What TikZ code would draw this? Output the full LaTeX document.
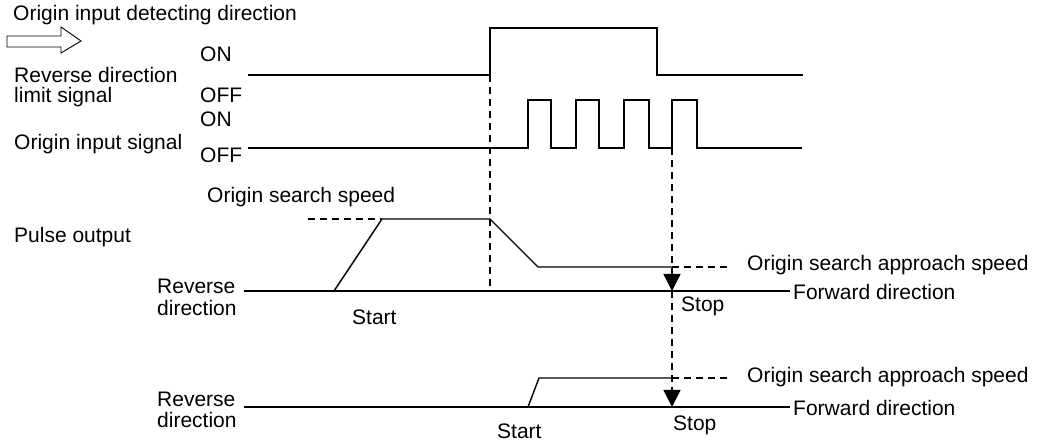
\documentclass[tikz,border=0pt]{standalone}
\usepackage{fontspec}
\setmainfont{Liberation Sans}
\usetikzlibrary{arrows.meta}

\begin{document}
\begin{tikzpicture}[x=1pt,y=-1pt,
    sig/.style={line width=1.4pt,line join=miter},
    guide/.style={line width=1.4pt,dash pattern=on 7pt off 5pt},
    lbl/.style={anchor=base west,inner sep=0pt,font=\fontsize{21}{21}\selectfont}]
  \useasboundingbox (0,0) rectangle (1037,443);
  % labels on the left
  \node[lbl] (title) at (13,21) {Origin input detecting direction};
  \draw[line width=0.9pt] (7,36)--(61,36)--(61,27)--(81,41)--(61,53)--(61,47)--(7,47)--cycle;
  \node[lbl] (on1) at (200,62) {ON};
  \node[lbl] (off1) at (200,103) {OFF};
  \node[lbl] (on2) at (200,127) {ON};
  \node[lbl] (off2) at (200,163) {OFF};
  \node[lbl] (lim1) at (14,83) {Reverse direction};
  \node[lbl] (lim2) at (14,103) {limit signal};
  \node[lbl] (orgsig) at (14,150) {Origin input signal};
  \node[lbl] (pulse) at (14,243) {Pulse output};
  \node[lbl] (speed) at (207,203) {Origin search speed};
  \node[lbl] (rev1) at (157,294) {Reverse};
  \node[lbl] (rev1b) at (157,316) {direction};
  \node[lbl] (rev2) at (157,407) {Reverse};
  \node[lbl] (rev2b) at (157,428) {direction};
  % reverse direction limit signal
  \draw[sig] (248,75)--(490,75)--(490,28)--(657,28)--(657,75)--(803,75);
  % origin input signal
  \draw[sig] (248,148) foreach \a/\b in {528/551,576/599,624/649,672/697} {
    -- (\a,148) -- (\a,100) -- (\b,100) -- (\b,148)} -- (802,148);
  % pulse output, first case
  \draw[sig] (244,291)--(790,291);
  \draw[sig] (334,291)--(382,219)--(490,219)--(538,267)--(672,267);
  \draw[guide] (308,219)--(382,219);
  \draw[guide] (672,267)--(730,267);
  \draw[guide] (490,75)--(490,291);
  \coordinate (stop1) at (672,291);
  \coordinate (stop2) at (672,407);
  \draw[guide,-{Triangle[width=17pt,length=17pt]}] (672,148)--(stop1);
  \draw[guide,-{Triangle[width=17pt,length=17pt]}] (stop1)--(stop2);
  \node[lbl] (start1) at (352,325) {Start};
  \node[lbl] (stoptxt1) at (681,312) {Stop};
  \node[lbl] (appr1) at (747,271) {Origin search approach speed};
  \node[lbl] (fwd1) at (793,300) {Forward direction};
  % pulse output, second case
  \draw[sig] (244,407)--(790,407);
  \draw[sig] (528,407)--(539,378)--(672,378);
  \draw[guide] (672,378)--(730,378);
  \node[lbl] (start2) at (497,439) {Start};
  \node[lbl] (stoptxt2) at (673,431) {Stop};
  \node[lbl] (appr2) at (747,383) {Origin search approach speed};
  \node[lbl] (fwd2) at (793,416) {Forward direction};
\end{tikzpicture}
\end{document}
